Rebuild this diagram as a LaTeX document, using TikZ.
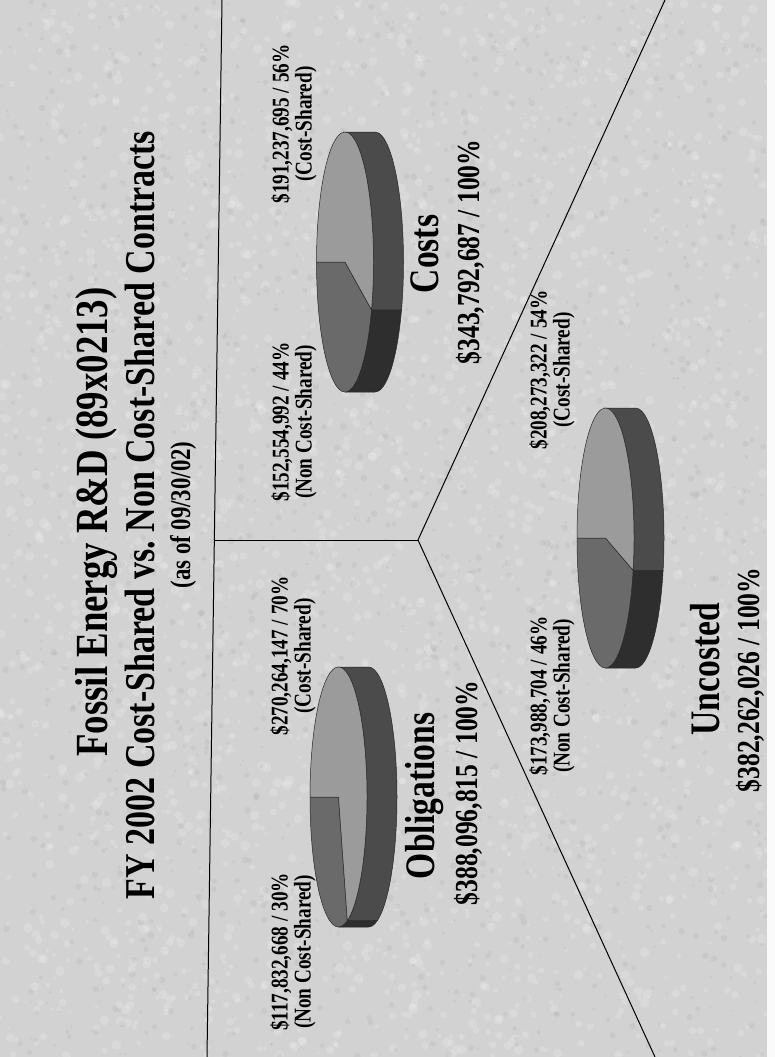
\documentclass[tikz,border=0pt]{standalone}
\usepackage{fontspec}
\setmainfont[FakeStretch=0.8]{Liberation Serif}
\definecolor{bg}{HTML}{D2D2D2}
\definecolor{plight}{HTML}{9B9B9B}
\definecolor{pmed}{HTML}{6A6A6A}
\definecolor{pdark}{HTML}{4B4B4B}
\definecolor{pdarker}{HTML}{2E2E2E}
\newcommand\drawpie[3]{%
  \begin{scope}[shift={(#1,-#2)}, rotate=90]
    \filldraw[pieline, fill=pdarker] (180:130 and 28.5)
      arc[start angle=180, end angle=#3, x radius=130, y radius=28.5]
      -- ({130*cos(#3)},{28.5*sin(#3)-30})
      arc[start angle=#3, end angle=180, x radius=130, y radius=28.5] -- cycle;
    \filldraw[pieline, fill=pdark] (#3:130 and 28.5)
      arc[start angle=#3, end angle=360, x radius=130, y radius=28.5]
      -- (130,-30)
      arc[start angle=360, end angle=#3, x radius=130, y radius=28.5] -- cycle;
    \filldraw[pieline, fill=pmed] (0,0) -- (90:130 and 28.5)
      arc[start angle=90, end angle=#3, x radius=130, y radius=28.5] -- cycle;
    \filldraw[pieline, fill=plight] (0,0) -- (#3:130 and 28.5)
      arc[start angle=#3, end angle=450, x radius=130, y radius=28.5] -- cycle;
  \end{scope}}
\tikzset{
  pieline/.style={draw=black!85, line width=0.5pt},
  divider/.style={draw=black, line width=1pt},
  lbl/.style={rotate=90, align=center, inner sep=0pt, font=\fontsize{24}{23}\selectfont\bfseries},
  bigname/.style={rotate=90, inner sep=0pt, font=\fontsize{42}{48}\selectfont\bfseries},
  total/.style={rotate=90, inner sep=0pt, font=\fontsize{32}{38}\selectfont\bfseries},
  titleA/.style={rotate=90, inner sep=0pt, font=\fontsize{46}{54}\selectfont\bfseries},
  titleB/.style={rotate=90, inner sep=0pt, font=\fontsize{42.5}{50}\selectfont\bfseries},
  titleC/.style={rotate=90, inner sep=0pt, font=\fontsize{28.5}{34}\selectfont\bfseries}
}
\begin{document}
\begin{tikzpicture}[x=1pt,y=1pt]
\useasboundingbox (0,0) rectangle (775,-1057);
\fill[bg] (0,0) rectangle (767,-1057);
% granite-like texture
\pgfmathsetseed{7}
\foreach \i in {1,...,2600}{
  \pgfmathsetmacro\px{rnd*767}
  \pgfmathsetmacro\py{-rnd*1057}
  \pgfmathsetmacro\pr{1.5+rnd*3.5}
  \fill[white, opacity=0.16] (\px,\py) circle (\pr);
}
\foreach \i in {1,...,1600}{
  \pgfmathsetmacro\px{rnd*767}
  \pgfmathsetmacro\py{-rnd*1057}
  \pgfmathsetmacro\pr{1+rnd*2.5}
  \fill[black, opacity=0.04] (\px,\py) circle (\pr);
}
\fill[white!96!gray] (767,0) rectangle (775,-1057);

% dividers
\coordinate (vt) at (222,0);
\coordinate (vb) at (207,-1057);
\coordinate (hl) at (214.3,-540);
\coordinate (J) at (418,-540);
\coordinate (ur) at (665,0);
\coordinate (lr) at (655,-1057);
\draw[divider] (vt) -- (vb);
\draw[divider] (hl) -- (J);
\draw[divider] (J) -- (ur);
\draw[divider] (J) -- (lr);

% title
\node[titleA] (t1) at (97,-522) {Fossil Energy R\&D (89x0213)};
\node[titleB] (t2) at (140,-515) {FY 2002 Cost-Shared vs.\ Non Cost-Shared Contracts};
\node[titleC] (t3) at (183,-515) {(as of 09/30/02)};

% pies
\drawpie{345}{262}{248.4}
\drawpie{338.5}{797}{198}
\drawpie{605.5}{538}{255.6}

% Costs
\node[lbl] (c1) at (294,-422) {\$152,554,992 / 44\%\\(Non Cost-Shared)};
\node[lbl] (c2) at (294,-124) {\$191,237,695 / 56\%\\(Cost-Shared)};
\node[bigname] (cn) at (425,-254) {Costs};
\node[total] (ct) at (470,-252) {\$343,792,687 / 100\%};

% Obligations
\node[lbl] (o1) at (293,-952) {\$117,832,668 / 30\%\\(Non Cost-Shared)};
\node[lbl] (o2) at (293,-656) {\$270,264,147 / 70\%\\(Cost-Shared)};
\node[bigname] (on) at (425,-796) {Obligations};
\node[total] (ot) at (468,-793) {\$388,096,815 / 100\%};

% Uncosted
\node[lbl] (u1) at (552,-696) {\$173,988,704 / 46\%\\(Non Cost-Shared)};
\node[lbl] (u2) at (552,-370) {\$208,273,322 / 54\%\\(Cost-Shared)};
\node[bigname] (un) at (705,-669) {Uncosted};
\node[total] (ut) at (750,-680) {\$382,262,026 / 100\%};
\end{tikzpicture}
\end{document}
